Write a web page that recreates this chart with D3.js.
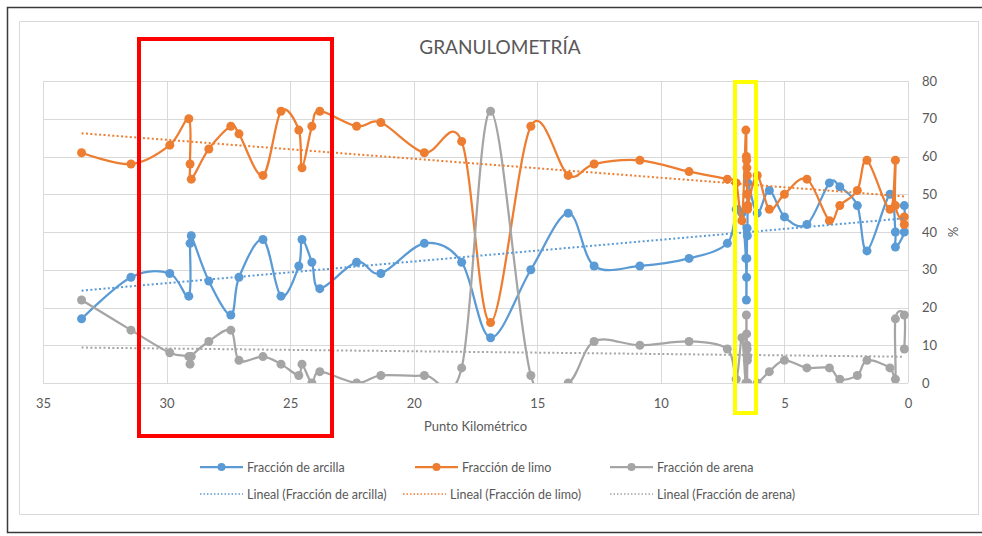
<!DOCTYPE html>
<html>
<head>
<meta charset="utf-8">
<script src="https://cdn.jsdelivr.net/npm/d3@7"></script>
<style>
  body { margin: 0; background: #fff; }
  svg text { font-family: Lato, "Open Sans", sans-serif; fill: #595959; }
</style>
</head>
<body>
<div id="chart"></div>
<script>
// punto kilometrico of each sample (reversed axis, 35 -> 0)
const pk = [33.44, 31.44, 29.87, 29.10, 29.05, 29.00, 28.29, 27.40, 27.07, 26.10,
    25.37, 24.65, 24.52, 24.12, 23.80, 22.31, 21.33, 19.57, 18.06, 16.89,
    15.26, 13.75, 12.70, 10.85, 8.86, 7.31, 6.95, 6.72, 6.56, 6.54,
    6.53, 6.52, 6.51, 6.50, 6.49, 6.48, 6.10, 5.61, 5.00, 4.09,
    3.18, 2.76, 2.05, 1.66, 0.73, 0.51, 0.51, 0.15, 0.15];

const arcilla = [17, 28, 29, 23, 37, 39, 27, 18, 28, 38,
    23, 31, 38, 32, 25, 32, 29, 37, 32, 12,
    30, 45, 31, 31, 33, 37, 46, 45, 33, 22,
    28, 33, 41, 39, 47, 53, 45, 51, 44, 42,
    53, 52, 47, 35, 50, 40, 36, 40, 47];

const limo = [61, 58, 63, 70, 58, 54, 62, 68, 66, 55,
    72, 67, 57, 68, 72, 68, 69, 61, 64, 16,
    68, 55, 58, 59, 56, 54, 53, 43, 67, 60,
    59, 57, 50, 55, 46, 47, 55, 46, 50, 54,
    43, 47, 51, 59, 46, 59, 47, 42, 44];

const arena = [22, 14, 8, 7, 5, 7, 11, 14, 6, 7,
    5, 2, 5, 0, 3, 0, 2, 2, 4, 72,
    2, 0, 11, 10, 11, 9, 1, 12, 0, 18,
    13, 10, 9, 6, 7, 0, 0, 3, 6, 4,
    4, 1, 2, 6, 4, 1, 17, 18, 9];

const seriesNames = ["Fracción de arcilla", "Fracción de limo", "Fracción de arena"];
const colors = ["#5B9BD5", "#ED7D31", "#A5A5A5"];
const xTicks = [35, 30, 25, 20, 15, 10, 5, 0];
const yTicks = [0, 10, 20, 30, 40, 50, 60, 70, 80];

const width = 982, height = 536;
const margin = { top: 81, right: 74, bottom: 153, left: 43 };
const innerWidth = width - margin.left - margin.right;
const innerHeight = height - margin.top - margin.bottom;

const svg = d3.select("#chart").append("svg")
    .attr("width", width)
    .attr("height", height);

// frames (outer dark one runs off the right edge)
svg.append("path").attr("d", "M982,7.5H7.5V532.5H982")
    .attr("fill", "none").attr("stroke", "#3a3a3a").attr("stroke-width", 1.5);
svg.append("path").attr("d", "M19.5,21.5H978.5V514.5H19.5Z")
    .attr("fill", "none").attr("stroke", "#d9d9d9").attr("stroke-width", 1);

const xScale = d3.scaleLinear().domain([35, 0]).range([0, innerWidth]);
const yScale = d3.scaleLinear().domain([0, 80]).range([innerHeight, 0]);

const g = svg.append("g").attr("transform", `translate(${margin.left}, ${margin.top})`);

// grid
g.selectAll(".hgrid").data(yTicks).join("line")
    .attr("x1", 0).attr("x2", innerWidth)
    .attr("y1", d => Math.round(yScale(d)) + 0.5).attr("y2", d => Math.round(yScale(d)) + 0.5)
    .attr("stroke", "#d9d9d9");
g.selectAll(".vgrid").data(xTicks).join("line")
    .attr("y1", 0).attr("y2", innerHeight)
    .attr("x1", d => Math.round(xScale(d)) + 0.5).attr("x2", d => Math.round(xScale(d)) + 0.5)
    .attr("stroke", "#d9d9d9");

// axes (labels only, Excel style)
const xAxis = d3.axisBottom(xScale).tickValues(xTicks).tickSize(0).tickPadding(16);
g.append("g").attr("transform", `translate(0, ${innerHeight})`).call(xAxis)
    .call(a => a.select(".domain").remove())
    .selectAll("text").attr("font-size", 13).attr("fill", "#595959");

const yAxis = d3.axisRight(yScale).tickValues(yTicks).tickSize(0).tickPadding(14);
g.append("g").attr("transform", `translate(${innerWidth}, 0)`).call(yAxis)
    .call(a => a.select(".domain").remove())
    .selectAll("text").attr("font-size", 13).attr("fill", "#595959");

svg.append("text").attr("x", 500).attr("y", 54).attr("text-anchor", "middle")
    .attr("font-size", 19).text("GRANULOMETRÍA");
svg.append("text").attr("x", margin.left + innerWidth / 2).attr("y", 431).attr("text-anchor", "middle")
    .attr("font-size", 13).text("Punto Kilométrico");
svg.append("text").attr("transform", "translate(948, 232) rotate(90)").attr("text-anchor", "middle")
    .attr("font-size", 13).text("%");

// series
g.append("clipPath").attr("id", "plot-clip").append("rect")
    .attr("x", -6).attr("y", -6).attr("width", innerWidth + 12).attr("height", innerHeight + 6);

const allSeries = [arcilla, limo, arena];
const line = d3.line()
    .x(d => xScale(d.x))
    .y(d => yScale(d.y))
    .curve(d3.curveCardinal.tension(0));

const plot = g.append("g").attr("clip-path", "url(#plot-clip)");

// linear trendlines (least squares, like Excel "Lineal")
function trend(values) {
    const n = pk.length;
    const mx = d3.mean(pk), my = d3.mean(values);
    let sxy = 0, sxx = 0;
    for (let i = 0; i < n; i++) {
        sxy += (pk[i] - mx) * (values[i] - my);
        sxx += (pk[i] - mx) * (pk[i] - mx);
    }
    const b = sxy / sxx, a = my - b * mx;
    const x0 = d3.max(pk), x1 = d3.min(pk);
    return [{ x: x0, y: a + b * x0 }, { x: x1, y: a + b * x1 }];
}

allSeries.forEach((vals, i) => {
    const pts = pk.map((k, j) => ({ x: k, y: vals[j] }));
    plot.append("path").datum(pts)
        .attr("d", line)
        .attr("fill", "none")
        .attr("stroke", colors[i])
        .attr("stroke-width", 2.25);
    plot.selectAll(".m" + i).data(pts).join("circle")
        .attr("cx", d => xScale(d.x)).attr("cy", d => yScale(d.y))
        .attr("r", 4.5).attr("fill", colors[i]);
});

allSeries.forEach((vals, i) => {
    plot.append("path").datum(trend(vals))
        .attr("d", d3.line().x(d => xScale(d.x)).y(d => yScale(d.y)))
        .attr("fill", "none")
        .attr("stroke", colors[i])
        .attr("stroke-width", 2)
        .attr("stroke-dasharray", "2 2.4");
});

// legend
const legend = svg.append("g");
const legX = [200, 415, 610];
const legX2 = [200, 403, 610];
seriesNames.forEach((name, i) => {
    const row = legend.append("g").attr("transform", `translate(${legX[i]}, 467)`);
    row.append("line").attr("x1", 0).attr("x2", 43).attr("stroke", colors[i]).attr("stroke-width", 2.25);
    row.append("circle").attr("cx", 21.5).attr("r", 4).attr("fill", colors[i]);
    row.append("text").attr("x", 47).attr("y", 4.5).attr("font-size", 12.5).text(name);

    const row2 = legend.append("g").attr("transform", `translate(${legX2[i]}, 494)`);
    row2.append("line").attr("x1", 0).attr("x2", 43).attr("stroke", colors[i])
        .attr("stroke-width", 1.5).attr("stroke-dasharray", "1.5 2");
    row2.append("text").attr("x", 47).attr("y", 4.5).attr("font-size", 12.5)
        .text("Lineal (" + name + ")");
});

// annotation boxes
svg.append("path").attr("d", "M139,39H332V436H139Z")
    .attr("fill", "none").attr("stroke", "#FF0000").attr("stroke-width", 4);
svg.append("path").attr("d", "M735,82H756V413H735Z")
    .attr("fill", "none").attr("stroke", "#FFFF00").attr("stroke-width", 4);
</script>
</body>
</html>
